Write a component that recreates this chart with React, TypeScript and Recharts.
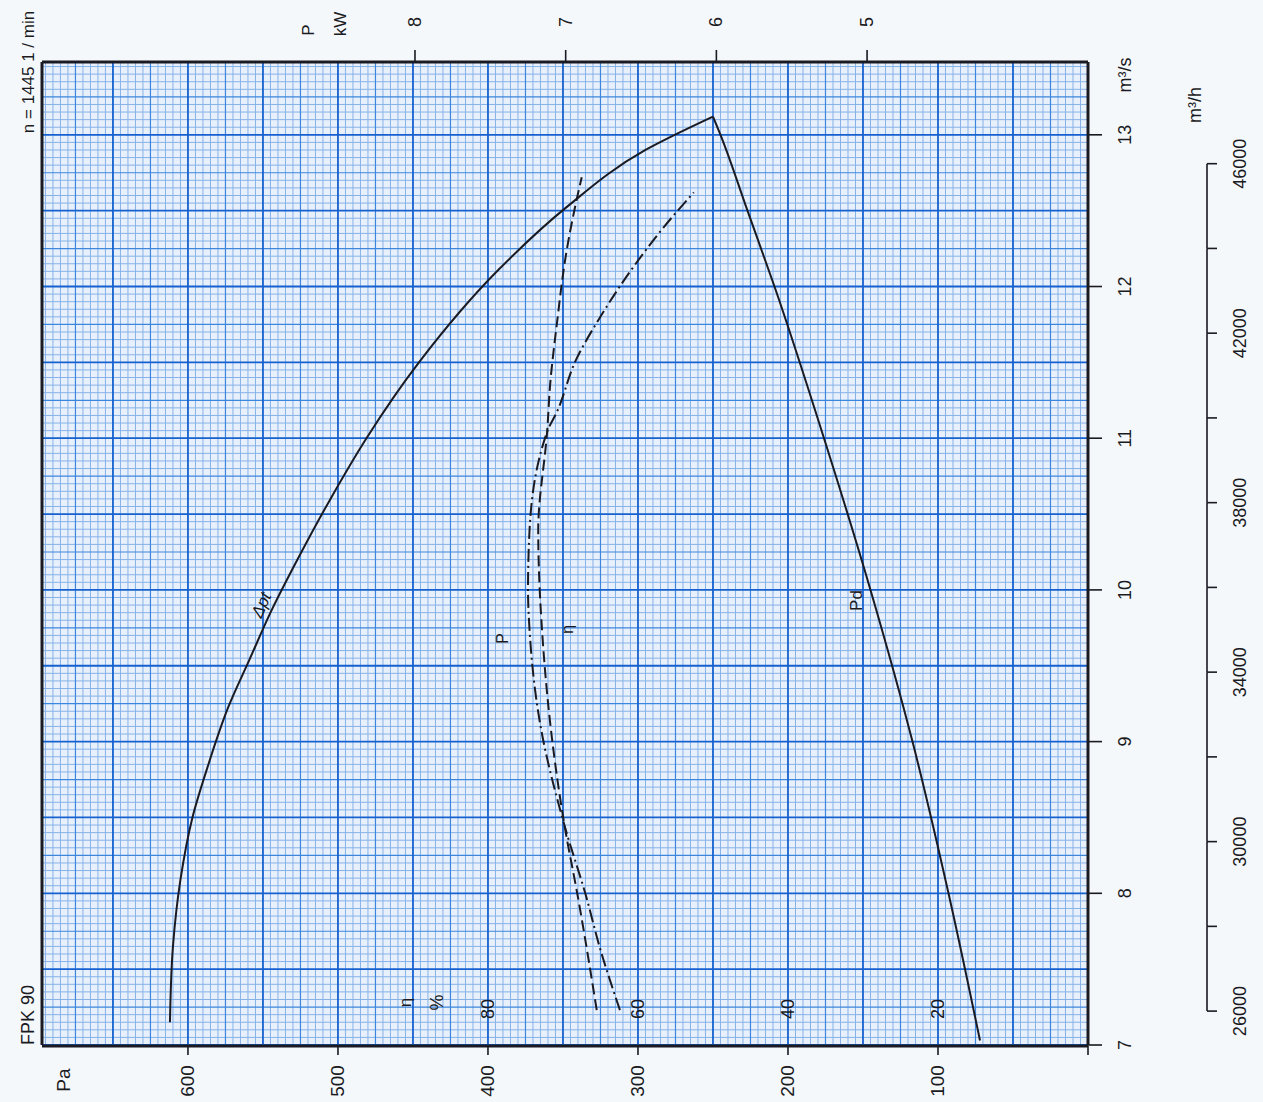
import React from 'react';
import { ComposedChart, Line, XAxis, YAxis, CartesianGrid, ReferenceDot } from 'recharts';

// ---------- axis ticks ----------
const Q_TICKS = [7, 8, 9, 10, 11, 12, 13]; // m3/s
const QH_TICKS = [26000, 28000, 30000, 32000, 34000, 36000, 38000, 40000, 42000, 44000, 46000]; // m3/h
const QH_LABELS = [26000, 30000, 34000, 38000, 42000, 46000];
const PA_TICKS = [0, 100, 200, 300, 400, 500, 600];
const KW_TICKS = [5, 6, 7, 8];
const ETA_TICKS = [20, 40, 60, 80];

// ---------- series (flow m3/s -> value) ----------
const DPT_Q = [7.15, 7.65, 8.09, 8.5, 8.83, 9.23, 9.54, 9.85, 10.2, 10.6, 11.0, 11.5, 12.11, 12.52, 12.9, 13.12];
const DPT_PA = [612, 610, 605, 597, 587, 573, 559, 545, 527, 505, 481, 446, 393, 348, 295, 250];

const PD_Q = [7.03, 8.0, 9.0, 10.0, 11.0, 12.0, 12.5, 13.0, 13.12];
const PD_PA = [72, 93, 117, 145, 176, 209, 227, 245, 250];

const P_Q = [7.23, 7.63, 8.0, 8.42, 9.12, 9.74, 10.0, 10.39, 11.05, 11.17, 11.52, 11.8, 12.13, 12.39, 12.62];
const P_KW = [6.64, 6.77, 6.87, 7.0, 7.17, 7.24, 7.25, 7.24, 7.12, 7.06, 6.93, 6.77, 6.55, 6.35, 6.15];

const ETA_Q = [7.23, 8.0, 8.42, 9.12, 9.74, 10.0, 10.39, 11.05, 11.36, 11.76, 12.24, 12.59, 12.72];
const ETA_PCT = [65.5, 68.1, 69.7, 71.7, 72.8, 73.1, 73.3, 72.1, 71.7, 70.8, 69.5, 68.1, 67.5];

// ---------- domains ----------
const Q_DOMAIN: [number, number] = [7, 13.48];
const QH_DOMAIN: [number, number] = [25200, 48400];
const PA_DOMAIN: [number, number] = [0, 697.3];
const KW_DOMAIN: [number, number] = [3.534, 10.475];
const ETA_DOMAIN: [number, number] = [0, 139.46];

const W = 1263;
const H = 1102;
const TOP_H = 62;
const BOTTOM_H = 56;
const ETA_H = 1;
const LEFT_W = 42;
const RIGHT_Q_W = 119;
const RIGHT_QH_W = 56;
const PLOT_H = H - TOP_H - BOTTOM_H - ETA_H;

const FONT = '"Liberation Sans", Arial, Helvetica, sans-serif';
const INK = '#1a1a22';

const dptData = DPT_Q.map((q, i) => ({ q, v: DPT_PA[i] }));
const pdData = PD_Q.map((q, i) => ({ q, v: PD_PA[i] }));
const pData = P_Q.map((q, i) => ({ q, v: P_KW[i] }));
const etaData = ETA_Q.map((q, i) => ({ q, v: ETA_PCT[i] }));

// graph-paper rulings (1 mm fine, 5 mm medium, 10 mm dark)
const gridQ = { fine: [] as number[], mid: [] as number[], dark: [] as number[] };
for (let i = 0; i <= 129; i++) {
  const v = 7 + i * 0.05;
  if (i % 10 === 0) gridQ.dark.push(v);
  else if (i % 5 === 0) gridQ.mid.push(v);
  else gridQ.fine.push(v);
}
const gridPa = { fine: [] as number[], mid: [] as number[], dark: [] as number[] };
for (let i = 0; i <= 139; i++) {
  const v = i * 5;
  if (i % 10 === 0) gridPa.dark.push(v);
  else if (i % 5 === 0) gridPa.mid.push(v);
  else gridPa.fine.push(v);
}

function RotText({ x, y, children, size = 18, angle = -90, italic = false }: any) {
  return (
    <text
      x={x}
      y={y}
      transform={`rotate(${angle} ${x} ${y})`}
      textAnchor="middle"
      dominantBaseline="central"
      fontSize={size}
      fontFamily={FONT}
      fontStyle={italic ? 'italic' : 'normal'}
      fill={INK}
    >
      {children}
    </text>
  );
}

const PaTick = (p: any) =>
  p.payload.value === 0 ? <g /> : <RotText x={p.x} y={p.y} size={19}>{p.payload.value}</RotText>;
const PlainTick = (p: any) => <RotText x={p.x} y={p.y} size={18}>{p.payload.value}</RotText>;
// efficiency scale: labels printed just inside the lower border
const EtaTick = (p: any) => <RotText x={p.x} y={p.y - 36} size={18}>{p.payload.value}</RotText>;
const QhTick = (p: any) => {
  const v = p.payload.value;
  const step = (2000 * PLOT_H) / (QH_DOMAIN[1] - QH_DOMAIN[0]);
  return (
    <g>
      <line x1={p.x} y1={p.y} x2={p.x + 10} y2={p.y} stroke={INK} strokeWidth={1.6} />
      {v < 46000 && <line x1={p.x} y1={p.y} x2={p.x} y2={p.y - step} stroke={INK} strokeWidth={1.6} />}
      {QH_LABELS.includes(v) && <RotText x={p.x + 33} y={p.y} size={18}>{v}</RotText>}
    </g>
  );
};

const mkH = (vals: number[]) => (args: any) => {
  const s = args?.yAxis?.scale;
  return vals.map((v) =>
    typeof s === 'function' ? s(v) : TOP_H + PLOT_H * (1 - (v - Q_DOMAIN[0]) / (Q_DOMAIN[1] - Q_DOMAIN[0]))
  );
};
const mkV = (vals: number[]) => (args: any) => {
  const s = args?.xAxis?.scale;
  return vals.map((v) =>
    typeof s === 'function' ? s(v) : LEFT_W + 1046 * (1 - (v - PA_DOMAIN[0]) / (PA_DOMAIN[1] - PA_DOMAIN[0]))
  );
};

const labelShape = (txt: string, angle = -90, size = 18, italic = false) => (p: any) => (
  <RotText x={p.cx} y={p.cy} angle={angle} size={size} italic={italic}>{txt}</RotText>
);

export default function App() {
  return (
    <div style={{ position: 'absolute', left: 0, top: 0, width: W, height: H, background: '#f5f8fb' }}>
      <ComposedChart
        width={W}
        height={H}
        layout="vertical"
        margin={{ top: 0, right: 0, bottom: 0, left: 0 }}
      >
        <CartesianGrid
          xAxisId="pa"
          yAxisId="q"
          fill="#e8f0fb"
          stroke="#86b2e8"
          strokeWidth={1}
          horizontalCoordinatesGenerator={mkH(gridQ.fine)}
          verticalCoordinatesGenerator={mkV(gridPa.fine)}
        />
        <CartesianGrid
          xAxisId="pa"
          yAxisId="q"
          stroke="#3d86de"
          strokeWidth={1.2}
          horizontalCoordinatesGenerator={mkH(gridQ.mid)}
          verticalCoordinatesGenerator={mkV(gridPa.mid)}
        />
        <CartesianGrid
          xAxisId="pa"
          yAxisId="q"
          stroke="#1561cf"
          strokeWidth={1.8}
          horizontalCoordinatesGenerator={mkH(gridQ.dark)}
          verticalCoordinatesGenerator={mkV(gridPa.dark)}
        />

        <Line data={dptData} dataKey="v" xAxisId="pa" yAxisId="q" type="monotone" stroke={INK} strokeWidth={2} dot={false} activeDot={false} isAnimationActive={false} />
        <Line data={pdData} dataKey="v" xAxisId="pa" yAxisId="q" type="monotone" stroke={INK} strokeWidth={2} dot={false} activeDot={false} isAnimationActive={false} />
        <Line data={pData} dataKey="v" xAxisId="kw" yAxisId="q" type="monotone" stroke={INK} strokeWidth={2} strokeDasharray="13 4 2 4" dot={false} activeDot={false} isAnimationActive={false} />
        <Line data={etaData} dataKey="v" xAxisId="eta" yAxisId="q" type="monotone" stroke={INK} strokeWidth={2} strokeDasharray="11 5" dot={false} activeDot={false} isAnimationActive={false} />

        <XAxis
          xAxisId="eta"
          type="number"
          orientation="bottom"
          domain={ETA_DOMAIN}
          reversed
          allowDataOverflow
          height={ETA_H}
          ticks={ETA_TICKS}
          interval={0}
          tickSize={0}
          tickMargin={0}
          axisLine={false}
          tickLine={false}
          tick={EtaTick}
        />
        <XAxis
          xAxisId="pa"
          type="number"
          orientation="bottom"
          domain={PA_DOMAIN}
          reversed
          allowDataOverflow
          height={BOTTOM_H}
          ticks={PA_TICKS}
          interval={0}
          tickSize={9}
          tickMargin={26}
          axisLine={{ stroke: INK, strokeWidth: 3 }}
          tickLine={{ stroke: INK, strokeWidth: 1.6 }}
          tick={PaTick}
        />
        <XAxis
          xAxisId="kw"
          type="number"
          orientation="top"
          domain={KW_DOMAIN}
          reversed
          allowDataOverflow
          height={TOP_H}
          ticks={KW_TICKS}
          interval={0}
          tickSize={12}
          tickMargin={28}
          axisLine={{ stroke: INK, strokeWidth: 3 }}
          tickLine={{ stroke: INK, strokeWidth: 1.6 }}
          tick={PlainTick}
        />
        <YAxis
          yAxisId="left"
          dataKey="q"
          type="number"
          orientation="left"
          domain={Q_DOMAIN}
          reversed
          allowDataOverflow
          width={LEFT_W}
          tick={false}
          tickLine={false}
          axisLine={{ stroke: INK, strokeWidth: 3 }}
        />
        <YAxis
          yAxisId="q"
          dataKey="q"
          type="number"
          orientation="right"
          domain={Q_DOMAIN}
          reversed
          allowDataOverflow
          width={RIGHT_Q_W}
          ticks={Q_TICKS}
          interval={0}
          tickSize={14}
          tickMargin={23}
          axisLine={{ stroke: INK, strokeWidth: 3 }}
          tickLine={{ stroke: INK, strokeWidth: 1.6 }}
          tick={PlainTick}
        />
        <YAxis
          yAxisId="qh"
          dataKey="q"
          type="number"
          orientation="right"
          domain={QH_DOMAIN}
          reversed
          allowDataOverflow
          width={RIGHT_QH_W}
          ticks={QH_TICKS}
          interval={0}
          tickSize={0}
          tickMargin={0}
          axisLine={false}
          tickLine={false}
          tick={QhTick}
        />

        <ReferenceDot xAxisId="pa" yAxisId="q" x={551} y={9.9} r={0} ifOverflow="visible" shape={labelShape('Δpt', -66, 17, true)} />
        <ReferenceDot xAxisId="pa" yAxisId="q" x={390} y={9.68} r={0} ifOverflow="visible" shape={labelShape('P', -90, 16)} />
        <ReferenceDot xAxisId="pa" yAxisId="q" x={347} y={9.74} r={0} ifOverflow="visible" shape={labelShape('η', -90, 16)} />
        <ReferenceDot xAxisId="pa" yAxisId="q" x={154} y={9.93} r={0} ifOverflow="visible" shape={labelShape('Pd', -90, 17)} />
        <ReferenceDot xAxisId="eta" yAxisId="q" x={91} y={7.28} r={0} ifOverflow="visible" shape={labelShape('η', -90, 17)} />
        <ReferenceDot xAxisId="eta" yAxisId="q" x={86.8} y={7.28} r={0} ifOverflow="visible" shape={labelShape('%', -90, 18)} />

        <RotText x={28} y={1015} size={18}>FPK 90</RotText>
        <RotText x={28} y={72} size={17}>n = 1445 1 / min</RotText>
        <RotText x={63} y={1080} size={19}>Pa</RotText>
        <RotText x={308} y={30} size={17}>P</RotText>
        <RotText x={340} y={24} size={17}>kW</RotText>
        <RotText x={1125} y={75} size={18}>m³/s</RotText>
        <RotText x={1195} y={105} size={18}>m³/h</RotText>
      </ComposedChart>
    </div>
  );
}
